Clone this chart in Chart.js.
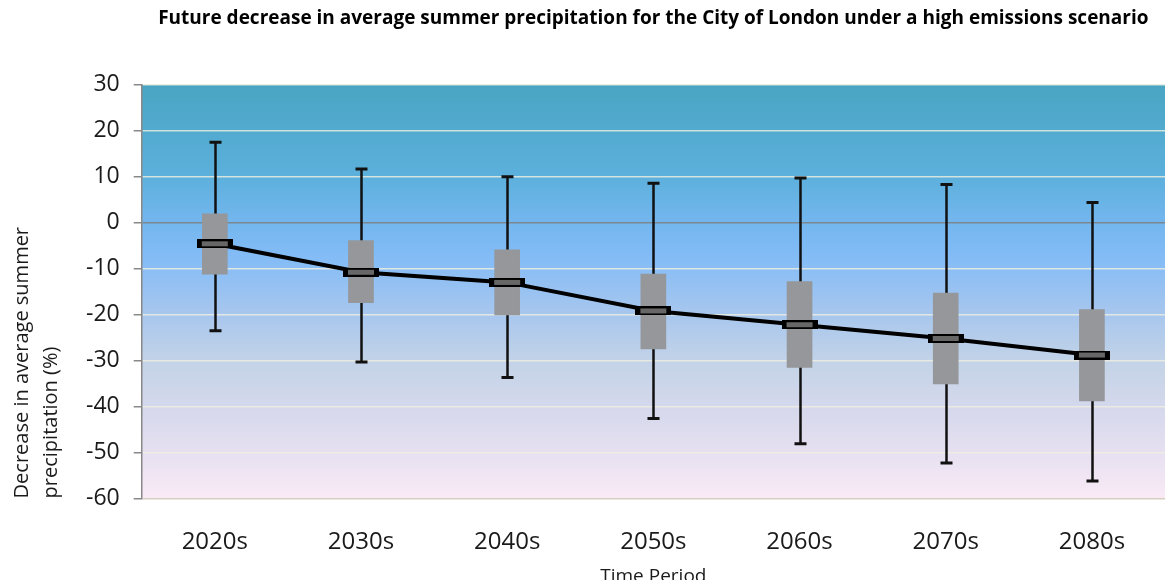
<!DOCTYPE html>
<html>
<head>
<meta charset="utf-8">
<script src="https://cdn.jsdelivr.net/npm/chart.js@4/dist/chart.umd.min.js"></script>
<style>
  html, body { margin: 0; padding: 0; background: #fff; overflow: hidden; }
  #wrap { width: 1165px; height: 580px; }
</style>
</head>
<body>
<div id="wrap"><canvas id="c"></canvas></div>
<script>
// data
const periods = ['2020s', '2030s', '2040s', '2050s', '2060s', '2070s', '2080s'];
const whiskerHigh = [17.5, 11.7, 10.0, 8.6, 9.7, 8.3, 4.4];
const boxHigh = [1.9, -3.9, -5.9, -11.2, -12.8, -15.3, -18.9];
const medians = [-4.6, -10.8, -13.0, -19.2, -22.2, -25.2, -28.8];
const boxLow = [-11.2, -17.4, -20.1, -27.5, -31.5, -35.1, -38.8];
const whiskerLow = [-23.5, -30.3, -33.7, -42.6, -48.1, -52.3, -56.2];
const yTickMin = -60, yTickMax = 30, yTickStep = 10;

const boxes = periods.map((p, i) => [boxLow[i], boxHigh[i]]);

// median marker: black outlined dark grey bar
const marker = document.createElement('canvas');
marker.width = 36; marker.height = 9;
const mctx = marker.getContext('2d');
mctx.fillStyle = '#000';
mctx.fillRect(0, 0, 36, 9);
mctx.fillStyle = '#676767';
mctx.fillRect(5, 2, 26, 5);

// gradient behind plot
const bgPlugin = {
  id: 'bg',
  beforeDraw(chart) {
    const a = chart.chartArea, ctx = chart.ctx;
    const g = ctx.createLinearGradient(0, a.top, 0, a.bottom);
    g.addColorStop(0, '#49a5c3');
    g.addColorStop(0.22, '#5cb0dc');
    g.addColorStop(0.33, '#73b6ee');
    g.addColorStop(0.42, '#84bcf6');
    g.addColorStop(0.55, '#a6c6ee');
    g.addColorStop(0.67, '#c3d3e7');
    g.addColorStop(0.80, '#d8d9ed');
    g.addColorStop(0.90, '#e8e1f1');
    g.addColorStop(1, '#faeaf6');
    ctx.save();
    ctx.fillStyle = g;
    ctx.fillRect(a.left, a.top, a.right - a.left, a.bottom - a.top);
    ctx.restore();
  }
};

// whiskers with caps
const whiskerPlugin = {
  id: 'whiskers',
  beforeDatasetsDraw(chart) {
    const x = chart.scales.x, y = chart.scales.y, ctx = chart.ctx;
    ctx.save();
    ctx.strokeStyle = '#111';
    periods.forEach((p, i) => {
      const px = Math.round(x.getPixelForValue(i)) + 0.5;
      const top = y.getPixelForValue(whiskerHigh[i]);
      const bot = y.getPixelForValue(whiskerLow[i]);
      ctx.lineWidth = 2.5;
      ctx.beginPath();
      ctx.moveTo(px, top);
      ctx.lineTo(px, bot);
      ctx.stroke();
      ctx.lineWidth = 3;
      ctx.beginPath();
      ctx.moveTo(px - 6, top);
      ctx.lineTo(px + 6, top);
      ctx.moveTo(px - 6, bot);
      ctx.lineTo(px + 6, bot);
      ctx.stroke();
    });
    ctx.restore();
  }
};

new Chart(document.getElementById('c'), {
  data: {
    labels: periods,
    datasets: [
      {
        type: 'line',
        data: medians,
        borderColor: '#000',
        borderWidth: 4,
        tension: 0,
        pointStyle: marker,
        pointRadius: 10,
        pointHoverRadius: 10,
        clip: false,
        order: 0
      },
      {
        type: 'bar',
        data: boxes,
        backgroundColor: '#95979a',
        borderWidth: 0,
        barThickness: 25,
        order: 1
      }
    ]
  },
  options: {
    responsive: true,
    maintainAspectRatio: false,
    animation: false,
    layout: { autoPadding: false, padding: { left: 8, right: -5, top: 0, bottom: -8 } },
    plugins: {
      legend: { display: false },
      tooltip: { enabled: false },
      title: {
        display: true,
        fullSize: false,
        text: 'Future decrease in average summer precipitation for the City of London under a high emissions scenario',
        color: '#000',
        font: { family: 'Open Sans', size: 19, weight: 'bold' },
        align: 'center',
        padding: { top: 7, bottom: 55 }
      }
    },
    scales: {
      x: {
        offset: true,
        grid: { display: false, drawTicks: false },
        border: { display: false },
        ticks: {
          color: '#1a1a1a',
          padding: 29,
          font: { family: 'Open Sans', size: 24 }
        },
        title: {
          display: true,
          text: 'Time Period',
          color: '#1a1a1a',
          font: { family: 'Open Sans', size: 19 },
          padding: { top: -20, bottom: 0 }
        }
      },
      y: {
        min: yTickMin,
        max: yTickMax,
        ticks: {
          stepSize: yTickStep,
          color: '#1a1a1a',
          padding: 14,
          font: { family: 'Open Sans', size: 23 }
        },
        grid: {
          color: ctx => ctx.tick && ctx.tick.value === 0 ? '#7c8890' :
            (ctx.tick && ctx.tick.value === yTickMin ? '#d6cfc2' : 'rgba(240,240,225,0.8)'),
          lineWidth: 1.5,
          tickLength: 8,
          tickColor: '#888'
        },
        border: { display: true, color: '#888', width: 1.5 },
        title: {
          display: true,
          text: ['Decrease in average summer', 'precipitation (%)'],
          align: 'start',
          color: '#1a1a1a',
          font: { family: 'Open Sans', size: 20, lineHeight: 1.45 },
          padding: { top: 0, bottom: 6 }
        }
      }
    }
  },
  plugins: [bgPlugin, whiskerPlugin]
});
</script>
</body>
</html>
